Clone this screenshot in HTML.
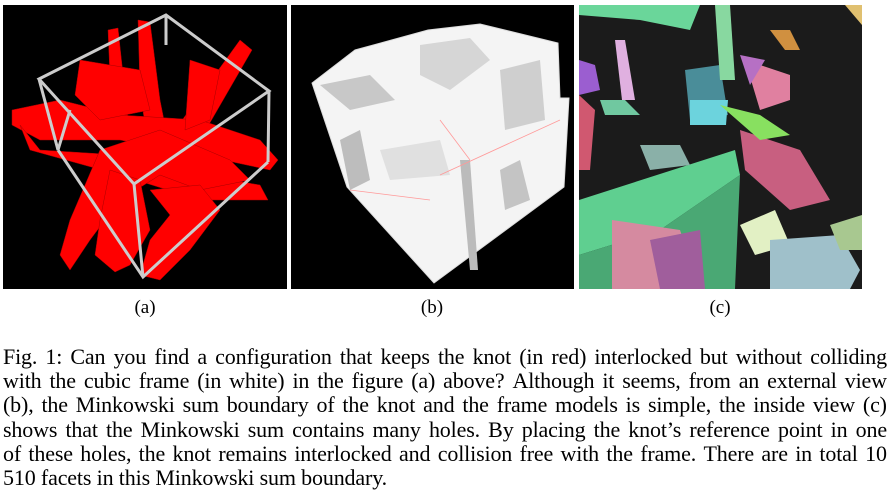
<!DOCTYPE html>
<html><head><meta charset="utf-8"><style>
body{margin:0;background:#fff;width:894px;height:504px;overflow:hidden;position:relative;font-family:"Liberation Serif",serif}
svg{position:absolute;left:0;top:0}
.lab{position:absolute;top:297px;font-size:19px;width:40px;text-align:center}
.cap{position:absolute;left:3px;width:884px;font-size:22px;line-height:24.2px;top:345px;letter-spacing:-0.15px}
.cap div{white-space:nowrap;display:flex;justify-content:space-between}
.cap div.last{display:block;text-align:left}
</style></head><body>
<svg width="894" height="300">
<g>
<rect x="3" y="5" width="284" height="284" fill="#000"/>
<g fill="#f00" stroke="#a00" stroke-width="0.5">
<path d="M108 30 L118 28 L128 120 L112 125Z"/>
<path d="M138 20 L150 22 L160 100 L170 150 L150 160 L140 90Z"/>
<path d="M240 40 L252 50 L200 140 L180 150 L175 130Z"/>
<path d="M12 110 L60 100 L120 115 L200 120 L260 140 L278 160 L270 170 L200 155 L120 140 L40 140 L12 125Z"/>
<path d="M20 125 L40 150 L120 155 L200 175 L260 185 L268 200 L200 200 L120 175 L30 150Z"/>
<path d="M100 150 L160 130 L230 160 L250 180 L200 190 L160 175 L120 200 L90 240 L70 270 L60 255 L70 220Z"/>
<path d="M110 170 L140 180 L150 230 L130 265 L115 272 L95 255 L100 220Z"/>
<path d="M150 190 L200 185 L220 210 L190 250 L160 280 L140 275 L150 240 L170 215Z"/>
<path d="M80 60 L140 70 L150 110 L100 120 L75 95Z"/>
<path d="M190 60 L220 70 L210 120 L185 130Z"/>
</g>
<g stroke="#ccc" stroke-width="3" fill="none">
<path d="M166 15 L39 79 L134 184 L269 91 Z"/>
<path d="M39 79 L58 150 M134 184 L143 277 M269 91 L268 162 M166 15 L166 45"/>
<path d="M58 150 L143 277 L268 162 M58 150 L70 110"/>
</g>
</g>
<g>
<rect x="291" y="5" width="283" height="284" fill="#000"/>
<path d="M480 24 L558 43 L560 98 L569 98 L564 187 L434 283 L347 187 L312 83 L355 50 L428 30 Z" fill="#f4f4f4" stroke="#ddd"/>
<path d="M420 45 L470 38 L490 60 L450 90 L420 75Z" fill="#d6d6d6"/>
<path d="M320 85 L370 75 L395 100 L350 110Z" fill="#c8c8c8"/>
<path d="M500 70 L540 60 L545 120 L505 130Z" fill="#cfcfcf"/>
<path d="M460 160 L470 270 L478 270 L470 160Z" fill="#bbb"/>
<path d="M500 170 L520 160 L530 200 L505 210Z" fill="#c4c4c4"/>
<path d="M340 140 L360 130 L370 180 L350 190Z" fill="#bdbdbd"/>
<path d="M380 150 L440 140 L450 175 L390 180Z" fill="#e0e0e0"/>
<path d="M440 175 L560 120 M350 190 L430 200 M440 120 L470 160" stroke="#f99" stroke-width="0.8" fill="none"/>
</g>
<g>
<rect x="579" y="5" width="283" height="284" fill="#1b1b1b"/>
<path d="M579 200 L735 150 L740 175 L660 230 L579 255Z" fill="#5fcf90"/>
<path d="M579 255 L660 230 L740 175 L735 289 L579 289Z" fill="#4aa874"/>
<path d="M579 5 L700 5 L690 30 L640 20 L579 15Z" fill="#6ad69a"/>
<path d="M685 70 L720 65 L728 115 L690 120Z" fill="#4a8d99"/>
<path d="M690 100 L728 100 L726 125 L690 125Z" fill="#6cd3dd"/>
<path d="M612 220 L680 230 L700 289 L612 289Z" fill="#d58aa0"/>
<path d="M650 240 L700 230 L705 289 L660 289Z" fill="#a05e9c"/>
<path d="M740 225 L775 210 L790 245 L755 255Z" fill="#e2f0c4"/>
<path d="M770 240 L840 235 L860 270 L850 289 L770 289Z" fill="#9fc0ca"/>
<path d="M740 130 L800 150 L830 200 L790 210 L745 170Z" fill="#c85f80"/>
<path d="M745 60 L790 75 L790 100 L760 110Z" fill="#e080a0"/>
<path d="M740 55 L765 60 L750 85Z" fill="#b670c4"/>
<path d="M720 105 L760 115 L790 135 L760 140Z" fill="#88e060"/>
<path d="M640 145 L680 145 L690 165 L650 170Z" fill="#8ab0a8"/>
<path d="M579 60 L595 65 L600 90 L579 95Z" fill="#9b5ed0"/>
<path d="M579 95 L595 110 L590 170 L579 170Z" fill="#d05870"/>
<path d="M615 40 L625 40 L635 100 L622 100Z" fill="#e0b0e0"/>
<path d="M715 5 L730 5 L735 80 L720 80Z" fill="#88d8a0"/>
<path d="M770 30 L790 30 L800 50 L785 50Z" fill="#d09040"/>
<path d="M845 5 L862 5 L862 25Z" fill="#e0c070"/>
<path d="M830 225 L862 215 L862 250 L840 250Z" fill="#a8c890"/>
<path d="M600 100 L625 100 L640 115 L605 115Z" fill="#70c8a0"/>
</g>
</svg>
<div class="lab" style="left:125px">(a)</div>
<div class="lab" style="left:412px">(b)</div>
<div class="lab" style="left:700px">(c)</div>
<div class="cap">
<div>Fig. 1: Can you find a configuration that keeps the knot (in red) interlocked but without colliding</div>
<div>with the cubic frame (in white) in the figure (a) above? Although it seems, from an external view</div>
<div>(b), the Minkowski sum boundary of the knot and the frame models is simple, the inside view (c)</div>
<div>shows that the Minkowski sum contains many holes. By placing the knot’s reference point in one</div>
<div>of these holes, the knot remains interlocked and collision free with the frame. There are in total 10</div>
<div class="last">510 facets in this Minkowski sum boundary.</div>
</div>
<script>
document.querySelectorAll('.cap div:not(.last)').forEach(function(d){
var words=d.textContent.split(' ');d.textContent='';
words.forEach(function(w){var s=document.createElement('span');s.textContent=w;


d.appendChild(s);});
});
</script>
</body></html>
